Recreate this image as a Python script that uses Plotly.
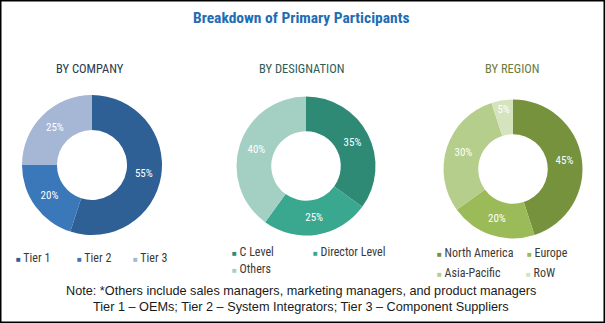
import plotly.graph_objects as go

# ---- data -------------------------------------------------------------
chart_title = "Breakdown of Primary Participants"

company_labels = ["Tier 1", "Tier 2", "Tier 3"]
company_values = [55, 20, 25]
company_colors = ["#2e6096", "#3a78b9", "#a5b7d4"]

designation_labels = ["C Level", "Director Level", "Others"]
designation_values = [35, 25, 40]
designation_colors = ["#2f8a75", "#3aa88e", "#a4d0c4"]

region_labels = ["North America", "Europe", "Asia-Pacific", "RoW"]
region_values = [45, 20, 30, 5]
region_colors = ["#76923c", "#9bbb59", "#b5ce8b", "#d6e3bf"]

panel_titles = ["BY COMPANY", "BY DESIGNATION", "BY REGION"]
panel_title_colors = ["#2b3a4c", "#2f5d57", "#6b7c3f"]

note_lines = [
    "Note: *Others include sales managers, marketing managers, and product managers",
    "Tier 1 \u2013 OEMs; Tier 2 \u2013 System Integrators; Tier 3 \u2013 Component Suppliers",
]

# ---- layout helpers (pixel -> paper fractions, margins are zero) ---------
W, H = 605, 323
NARROW = "Roboto Condensed, Roboto, Liberation Sans, sans-serif"
REGULAR = "Liberation Sans, Arial, sans-serif"


def px(x):
    return x / W


def py(y):
    return 1 - y / H


def domain(cx, cy, r):
    return dict(x=[px(cx - r), px(cx + r)], y=[py(cy + r), py(cy - r)])


panels = [
    # centre / radius of each donut, x of its heading and legend rows
    dict(labels=company_labels, values=company_values, colors=company_colors,
         cx=92, cy=165, r=70, tx=90,
         legend=[(16, 258, [0, 1, 2], [0, 61, 117])]),
    dict(labels=designation_labels, values=designation_values, colors=designation_colors,
         cx=306, cy=166, r=69.5, tx=301,
         legend=[(232, 252, [0, 1], [0, 81]), (232, 269, [2], [0])]),
    dict(labels=region_labels, values=region_values, colors=region_colors,
         cx=513, cy=169, r=69.5, tx=512,
         legend=[(437, 253, [0, 1], [0, 90]), (437, 273, [2, 3], [0, 89])]),
]

fig = go.Figure()
annotations = []

for i, p in enumerate(panels):
    fig.add_trace(go.Pie(
        labels=p["labels"],
        values=p["values"],
        marker=dict(colors=p["colors"], line=dict(width=0)),
        hole=0.5,
        sort=False,
        direction="clockwise",
        rotation=0,
        textinfo="percent",
        textposition="inside",
        insidetextorientation="horizontal",
        insidetextfont=dict(color="white", size=11, family=NARROW),
        domain=domain(p["cx"], p["cy"], p["r"]),
        showlegend=False,
    ))
    annotations.append(dict(
        text=panel_titles[i], x=px(p["tx"]), y=py(68), xref="paper", yref="paper",
        showarrow=False, xanchor="center", yanchor="middle",
        font=dict(family=NARROW, size=12.5, color=panel_title_colors[i]),
    ))
    # swatch + label entries for each slice
    for (lx, ly, idx, offs) in p["legend"]:
        for k, dx in zip(idx, offs):
            annotations.append(dict(
                text=f'<span style="font-size:8px;color:{p["colors"][k]}">\u25a0</span> {p["labels"][k]}',
                x=px(lx + dx - 2), y=py(ly), xref="paper", yref="paper",
                showarrow=False, xanchor="left", yanchor="middle",
                font=dict(family=NARROW, size=12, color="#3a3a3a"),
            ))

annotations.append(dict(
    text=f"<b>{chart_title}</b>", x=px(301), y=py(18), xref="paper", yref="paper",
    showarrow=False, xanchor="center", yanchor="middle",
    font=dict(family=NARROW, size=15.5, color="#1f6db3"),
))
for j, line in enumerate(note_lines):
    annotations.append(dict(
        text=line, x=px(301), y=py(291 + 16 * j), xref="paper", yref="paper",
        showarrow=False, xanchor="center", yanchor="middle",
        font=dict(family=REGULAR, size=12.7, color="#1a1a1a"),
    ))

fig.update_layout(
    width=W, height=H,
    margin=dict(l=0, r=0, t=0, b=0),
    paper_bgcolor="white",
    plot_bgcolor="white",
    annotations=annotations,
    shapes=[dict(type="rect", xref="paper", yref="paper", x0=0, y0=0, x1=1, y1=1,
                 line=dict(color="black", width=3))],
)

fig.write_html("out.html")
